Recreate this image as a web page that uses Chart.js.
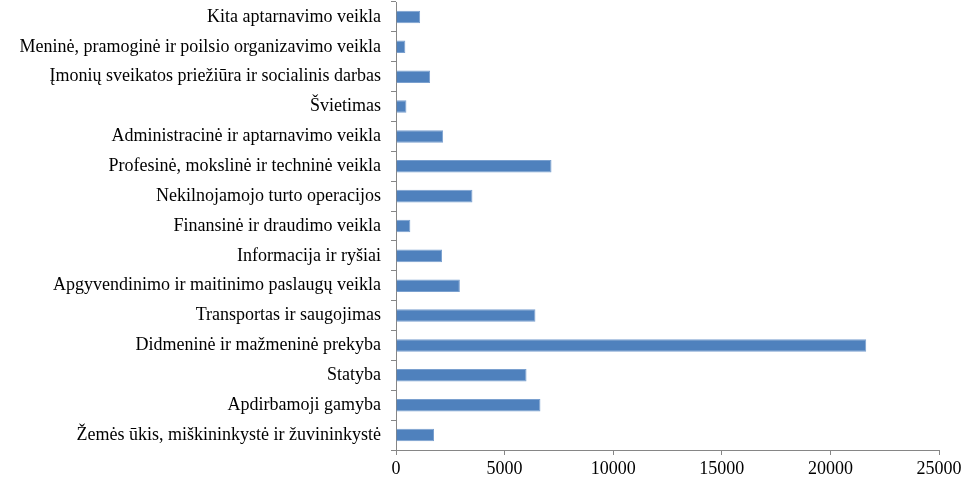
<!DOCTYPE html>
<html>
<head>
<meta charset="utf-8">
<script src="https://cdn.jsdelivr.net/npm/chart.js@4"></script>
<style>
  body { margin: 0; background: #fff; }
  #wrap { width: 967px; height: 479px; }
</style>
</head>
<body>
<div id="wrap"><canvas id="myChart"></canvas></div>
<script>
var sectors = [
    'Kita aptarnavimo veikla',
    'Meninė, pramoginė ir poilsio organizavimo veikla',
    'Įmonių sveikatos priežiūra ir socialinis darbas',
    'Švietimas',
    'Administracinė ir aptarnavimo veikla',
    'Profesinė, mokslinė ir techninė veikla',
    'Nekilnojamojo turto operacijos',
    'Finansinė ir draudimo veikla',
    'Informacija ir ryšiai',
    'Apgyvendinimo ir maitinimo paslaugų veikla',
    'Transportas ir saugojimas',
    'Didmeninė ir mažmeninė prekyba',
    'Statyba',
    'Apdirbamoji gamyba',
    'Žemės ūkis, miškininkystė ir žuvininkystė'
];
var values = [1110, 430, 1570, 480, 2170, 7160, 3520, 660, 2120, 2940, 6420, 21650, 6010, 6650, 1750];
var xTicks = [0, 5000, 10000, 15000, 20000, 25000];

var axisGray = '#868686';
var ctx = document.getElementById('myChart').getContext('2d');
var myChart = new Chart(ctx, {
    type: 'bar',
    data: {
        labels: sectors,
        datasets: [{
            data: values,
            backgroundColor: '#4f81bd',
            borderColor: '#7aa0cf',
            borderWidth: 1,
            barPercentage: 0.42,
            categoryPercentage: 1
        }]
    },
    options: {
        indexAxis: 'y',
        responsive: true,
        maintainAspectRatio: false,
        animation: false,
        layout: {
            padding: { top: 2, right: 28, bottom: 0, left: 0 }
        },
        plugins: {
            legend: { display: false },
            tooltip: { enabled: false }
        },
        scales: {
            x: {
                min: 0,
                max: 25000,
                afterBuildTicks: function (scale) {
                    scale.ticks = xTicks.map(function (v) { return { value: v }; });
                },
                afterFit: function (scale) { scale.height = 29; },
                grid: {
                    drawOnChartArea: false,
                    drawTicks: true,
                    tickLength: 5,
                    color: axisGray
                },
                border: { color: axisGray },
                ticks: {
                    color: '#000',
                    padding: 3,
                    maxRotation: 0,
                    callback: function (v) { return String(v); },
                    font: { family: 'Liberation Serif', size: 18 }
                }
            },
            y: {
                afterFit: function (scale) {
                    scale.width = 396;
                    // category labels sit mid-band, no extra room needed
                    scale.paddingTop = 0;
                    scale.paddingBottom = 0;
                },
                grid: {
                    drawOnChartArea: false,
                    drawTicks: true,
                    tickLength: 5,
                    color: axisGray
                },
                border: { color: axisGray },
                ticks: {
                    color: '#000',
                    padding: 10,
                    autoSkip: false,
                    font: { family: 'Liberation Serif', size: 18 }
                }
            }
        }
    }
});
</script>
</body>
</html>
